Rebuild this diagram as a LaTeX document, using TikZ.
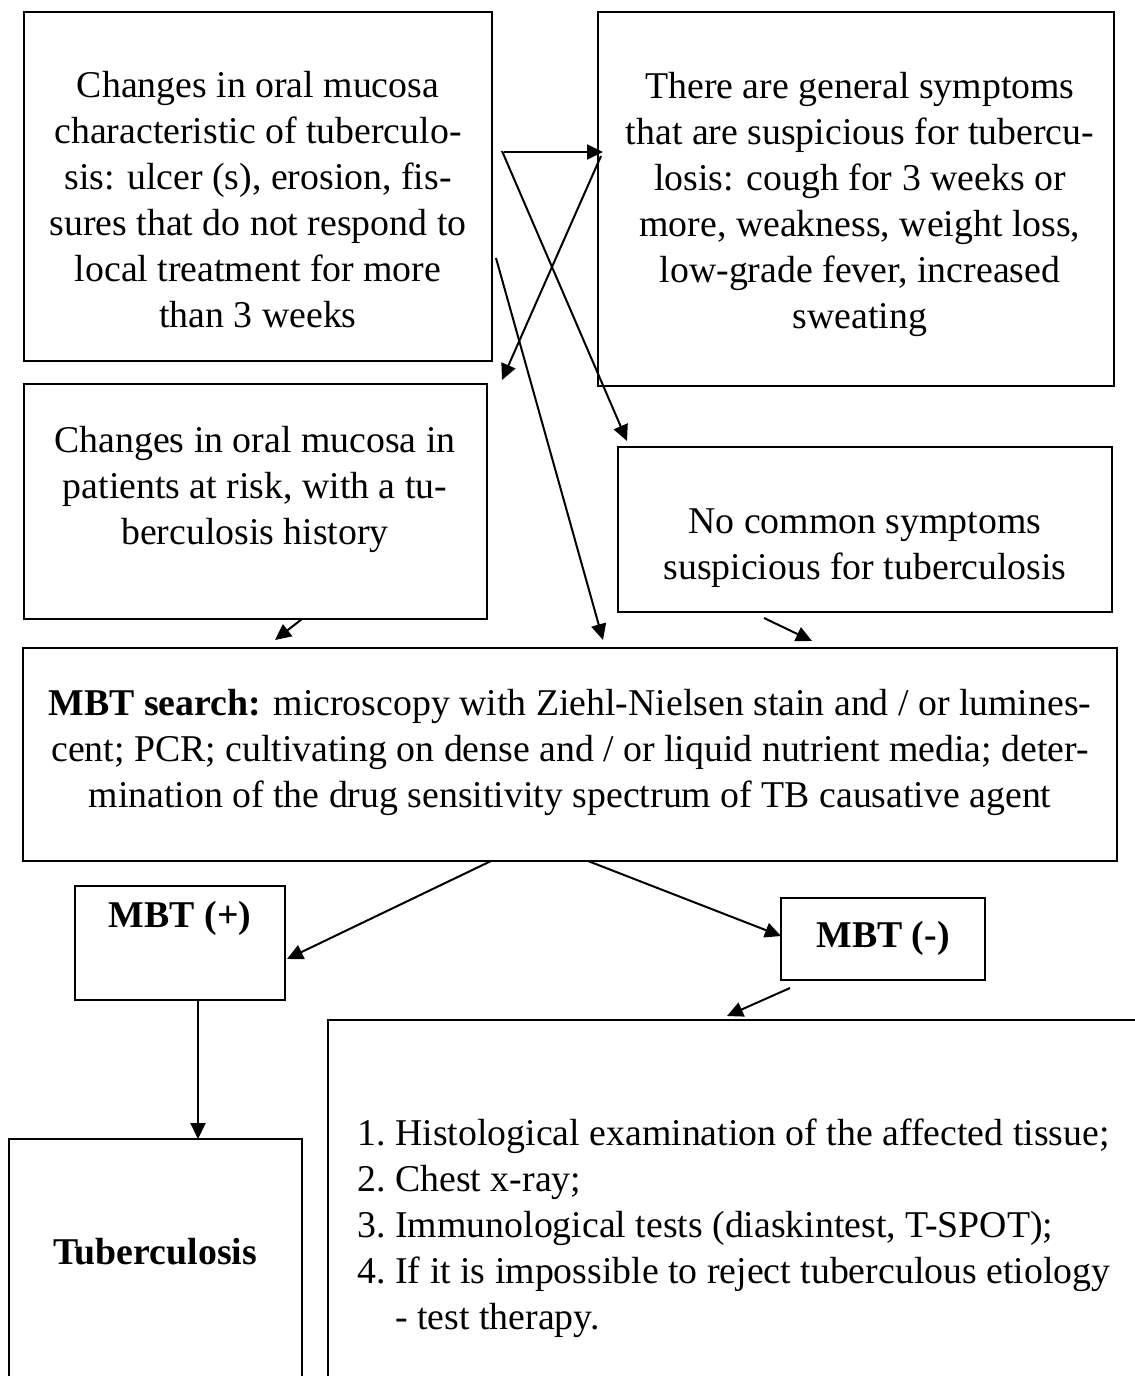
\documentclass[tikz,border=0pt]{standalone}
\usepackage{fontspec}
\setmainfont{Liberation Serif}
\usetikzlibrary{arrows.meta}
\tikzset{
  box/.style={draw, line width=1.4pt, inner sep=0pt},
  txt/.style={align=center, inner sep=0pt, font=\fontsize{18.9}{23}\selectfont},
  arr/.style={-{Triangle[length=8pt,width=7.5pt]}, line width=1pt},
}
\newcommand{\listnum}[1]{\makebox[19pt][l]{#1}}
\begin{document}
\begin{tikzpicture}[x=0.5pt,y=-0.5pt]
  \clip (0,0) rectangle (1135,1376);
  % boxes
  \node[box, minimum width=234pt, minimum height=174.5pt] (oral) at (258,186.5) {};
  \node[box, minimum width=258pt, minimum height=187pt] (general) at (856,199) {};
  \node[box, minimum width=231.5pt, minimum height=117.5pt] (risk) at (255.5,501.5) {};
  \node[box, minimum width=247pt, minimum height=82.5pt] (nocommon) at (865,529.5) {};
  \node[box, minimum width=547pt, minimum height=106.5pt] (search) at (570,754.5) {};
  \node[box, minimum width=105pt, minimum height=57pt] (pos) at (180,943) {};
  \node[box, minimum width=102pt, minimum height=41pt] (neg) at (883,939) {};
  \node[box, minimum width=436pt, minimum height=250pt] (exams) at (764,1270) {};
  \node[box, minimum width=146.5pt, minimum height=180.5pt] (tb) at (155.5,1319.5) {};
  % texts
  \node[txt] (oraltext) at (258,200) {Changes in oral mucosa\\characteristic of tuberculo-\\sis: ulcer (s), erosion, fis-\\sures that do not respond to\\local treatment for more\\than 3 weeks};
  \node[txt] (generaltext) at (860,204) {There are general symptoms\\that are suspicious for tubercu-\\losis: cough for 3 weeks or\\more, weakness, weight loss,\\low-grade fever, increased\\sweating};
  \node[txt] (risktext) at (255,489) {Changes in oral mucosa in\\patients at risk, with a tu-\\berculosis history};
  \node[txt] (nocommontext) at (865,548) {No common symptoms\\suspicious for tuberculosis};
  \node[txt] (searchtext) at (570,752) {\textbf{MBT search:} microscopy with Ziehl-Nielsen stain and / or lumines-\\cent; PCR; cultivating on dense and / or liquid nutrient media; deter-\\mination of the drug sensitivity spectrum of TB causative agent};
  \node[txt, font=\fontsize{18.9}{23}\selectfont\bfseries] (postext) at (180,918) {MBT (+)};
  \node[txt, font=\fontsize{18.9}{23}\selectfont\bfseries] (negtext) at (883,938) {MBT (-)};
  \node[txt, align=left, anchor=west] (examstext) at (357,1228) {\listnum{1.}Histological examination of the affected tissue;\\\listnum{2.}Chest x-ray;\\\listnum{3.}Immunological tests (diaskintest, T-SPOT);\\\listnum{4.}If it is impossible to reject tuberculous etiology\\\hspace*{19pt}- test therapy.};
  \node[txt, font=\fontsize{18.9}{23}\selectfont\bfseries] (tbtext) at (155,1252) {Tuberculosis};
  % arrow ends
  \coordinate (a1s) at (504,152);
  \coordinate (a1e) at (603,152);
  \coordinate (a2s) at (601,156);
  \coordinate (a2e) at (502,380);
  \coordinate (a3s) at (502,151);
  \coordinate (a3e) at (627,441);
  \coordinate (a4s) at (496,258);
  \coordinate (a4e) at (603,640);
  \coordinate (a5s) at (302,619);
  \coordinate (a5e) at (275,640);
  \coordinate (a6s) at (764,618);
  \coordinate (a6e) at (812,641);
  \coordinate (a7s) at (491,861);
  \coordinate (a7e) at (287,959);
  \coordinate (a8s) at (588,861);
  \coordinate (a8e) at (781,936);
  \coordinate (a9s) at (198,1000);
  \coordinate (a9e) at (198,1139);
  \coordinate (a10s) at (790,988);
  \coordinate (a10e) at (727,1016);
  % arrows
  \begin{scope}[arr]
    \draw (a1s) to (a1e);
    \draw (a2s) to (a2e);
    \draw (a3s) to (a3e);
    \draw (a4s) to (a4e);
    \draw (a5s) to (a5e);
    \draw (a6s) to (a6e);
    \draw (a7s) to (a7e);
    \draw (a8s) to (a8e);
    \draw (a9s) to (a9e);
    \draw (a10s) to (a10e);
  \end{scope}
\end{tikzpicture}
\end{document}
